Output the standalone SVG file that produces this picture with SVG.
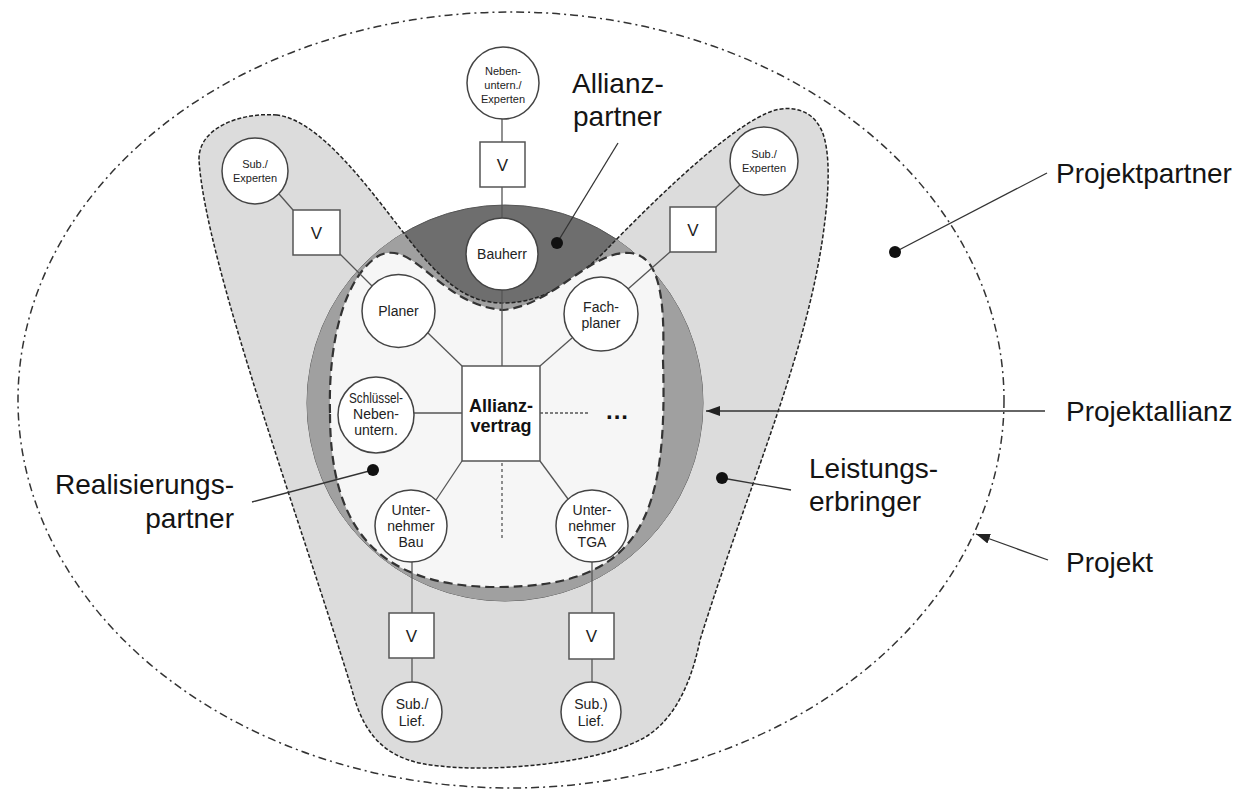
<svg xmlns="http://www.w3.org/2000/svg" width="1246" height="790" viewBox="0 0 1246 790">
<style>
.lbl{font-family:"Liberation Sans",Arial,Helvetica,sans-serif;font-size:28px;fill:#141414}
.nt{font-family:"Liberation Sans",Arial,Helvetica,sans-serif;font-size:14px;fill:#222;text-anchor:middle}
.sm{font-size:11px}
.vt{font-size:17px;fill:#222}
.bt{font-family:"Liberation Sans",Arial,Helvetica,sans-serif;font-size:18px;font-weight:bold;fill:#111;text-anchor:middle}
.node{fill:#fff;stroke:#444;stroke-width:1.5}
.box{fill:#fff;stroke:#555;stroke-width:1.5}
.con{stroke:#555;stroke-width:1.3;fill:none}
.ptr{stroke:#333;stroke-width:1.3;fill:none}
.dot{fill:#111}
</style>
<defs>
<path id="vshape" d="M 277,115 C 240,112 198,128 199,160 C 205,260 300,520 352,690 C 365,740 390,762 440,766 C 490,772 590,765 640,740 C 670,725 690,690 700,640 C 750,480 810,350 825,220 C 830,180 830,140 818,124 C 808,108 785,104 765,114 C 720,135 650,205 610,246 C 585,272 550,303 503,303 C 465,303 440,280 403,232 C 370,190 320,120 277,115 Z"/>
<clipPath id="circ"><circle cx="505" cy="403" r="198"/></clipPath>
<marker id="arr" markerUnits="userSpaceOnUse" markerWidth="14" markerHeight="10" refX="14" refY="5" orient="auto"><path d="M0,0 L14,5 L0,10 Z" fill="#222"/></marker>
</defs>
<rect width="1246" height="790" fill="#fff"/>

<g id="regions">
  <ellipse id="projekt" cx="511" cy="400" rx="493" ry="388" fill="none" stroke="#333" stroke-width="1.5" stroke-dasharray="8,4,2,4"/>
  <use href="#vshape" fill="#dcdcdc"/>
  <circle cx="505" cy="403" r="198" fill="#6e6e6e" stroke="#555" stroke-width="1"/>
  <use href="#vshape" fill="#a0a0a0" clip-path="url(#circ)"/>
  <use href="#vshape" fill="none" stroke="#222" stroke-width="1.5" stroke-dasharray="4,2"/>
  <path id="realisierung" d="M 330,413 C 328,340 345,275 380,255 C 415,240 440,305 503,310 C 555,305 590,250 630,253 C 660,255 665,300 663,360 C 668,520 640,587 497,587 C 370,587 330,520 330,413 Z" fill="#f6f6f6" stroke="#333" stroke-width="2.2" stroke-dasharray="9,5"/>
</g>

<g id="connectors">
  <line class="con" x1="502" y1="119" x2="502" y2="142"/>
  <line class="con" x1="502" y1="187" x2="502" y2="218"/>
  <line class="con" x1="502" y1="290" x2="502" y2="366"/>
  <line class="con" x1="279" y1="194" x2="293" y2="210"/>
  <line class="con" x1="340" y1="254" x2="372" y2="286"/>
  <line class="con" x1="740" y1="185" x2="716" y2="207"/>
  <line class="con" x1="670" y1="252" x2="628" y2="289"/>
  <line class="con" x1="428" y1="333" x2="462" y2="366"/>
  <line class="con" x1="572" y1="338" x2="540" y2="366"/>
  <line class="con" x1="414" y1="413" x2="462" y2="413"/>
  <line class="con" x1="436" y1="500" x2="462" y2="461"/>
  <line class="con" x1="568" y1="499" x2="540" y2="461"/>
  <line class="con" x1="540" y1="413" x2="588" y2="413" stroke-dasharray="3,2"/>
  <line class="con" x1="502" y1="463" x2="502" y2="540" stroke-dasharray="3,3"/>
  <line class="con" x1="412" y1="562" x2="412" y2="613"/>
  <line class="con" x1="412" y1="658" x2="412" y2="682"/>
  <line class="con" x1="592" y1="562" x2="592" y2="613"/>
  <line class="con" x1="592" y1="659" x2="592" y2="682"/>
</g>

<g id="n-neben"><circle class="node" cx="503" cy="83" r="36"/><text class="nt sm" x="503" y="75">Neben-</text><text class="nt sm" x="503" y="89">untern./</text><text class="nt sm" x="503" y="103">Experten</text></g>
<g id="v-neben"><rect class="box" x="480" y="142" width="45" height="45"/><text class="nt vt" x="502.5" y="171">V</text></g>
<g id="n-bauherr"><circle class="node" cx="502" cy="254" r="36"/><text class="nt" x="502" y="259">Bauherr</text></g>
<g id="n-sub-l"><circle class="node" cx="255" cy="171" r="33"/><text class="nt sm" x="255" y="168">Sub./</text><text class="nt sm" x="255" y="182">Experten</text></g>
<g id="v-sub-l"><rect class="box" x="293" y="210" width="47" height="45"/><text class="nt vt" x="316.5" y="239">V</text></g>
<g id="n-sub-r"><circle class="node" cx="764" cy="161" r="34"/><text class="nt sm" x="764" y="158">Sub./</text><text class="nt sm" x="764" y="172">Experten</text></g>
<g id="v-sub-r"><rect class="box" x="670" y="207" width="46" height="45"/><text class="nt vt" x="693" y="236">V</text></g>
<g id="n-planer"><circle class="node" cx="398.5" cy="311" r="36.5"/><text class="nt" x="398.5" y="316">Planer</text></g>
<g id="n-fachplaner"><circle class="node" cx="601" cy="314" r="37"/><text class="nt" x="601" y="312">Fach-</text><text class="nt" x="601" y="328">planer</text></g>
<g id="n-schluessel"><circle class="node" cx="376" cy="415" r="38"/><text class="nt" x="376" y="403" textLength="54" lengthAdjust="spacingAndGlyphs">Schlüssel-</text><text class="nt" x="376" y="419">Neben-</text><text class="nt" x="376" y="435">untern.</text></g>
<g id="n-vertrag"><rect class="box" x="462" y="366" width="78" height="95"/><text class="bt" x="501" y="412">Allianz-</text><text class="bt" x="501" y="432">vertrag</text></g>
<g id="n-more"><text class="bt" x="617" y="419" style="font-size:24px" textLength="22" lengthAdjust="spacing">...</text></g>
<g id="n-bau"><circle class="node" cx="411" cy="526" r="36"/><text class="nt" x="411" y="515">Unter-</text><text class="nt" x="411" y="531">nehmer</text><text class="nt" x="411" y="547">Bau</text></g>
<g id="n-tga"><circle class="node" cx="592" cy="526" r="36"/><text class="nt" x="592" y="515">Unter-</text><text class="nt" x="592" y="531">nehmer</text><text class="nt" x="592" y="547">TGA</text></g>
<g id="v-bau"><rect class="box" x="389" y="613" width="45" height="45"/><text class="nt vt" x="411.5" y="642">V</text></g>
<g id="v-tga"><rect class="box" x="569" y="613" width="45" height="46"/><text class="nt vt" x="591.5" y="642">V</text></g>
<g id="n-lief-l"><circle class="node" cx="412" cy="712" r="30"/><text class="nt" x="412" y="709">Sub./</text><text class="nt" x="412" y="726">Lief.</text></g>
<g id="n-lief-r"><circle class="node" cx="591" cy="712" r="30"/><text class="nt" x="591" y="709">Sub.)</text><text class="nt" x="591" y="726">Lief.</text></g>

<g id="annotations">
  <line class="ptr" x1="557" y1="243" x2="618" y2="143"/><circle class="dot" cx="557" cy="243" r="6"/>
  <line class="ptr" x1="895" y1="252" x2="1047" y2="173"/><circle class="dot" cx="895" cy="252" r="6"/>
  <line class="ptr" x1="1045" y1="411" x2="706" y2="411" marker-end="url(#arr)"/>
  <line class="ptr" x1="722" y1="478" x2="791" y2="490"/><circle class="dot" cx="722" cy="478" r="6"/>
  <line class="ptr" x1="373" y1="470" x2="252" y2="502"/><circle class="dot" cx="373" cy="470" r="6"/>
  <line class="ptr" x1="1048" y1="560" x2="976" y2="534" marker-end="url(#arr)"/>
</g>

<g id="labels">
  <text class="lbl" x="572" y="93">Allianz-</text>
  <text class="lbl" x="573" y="126">partner</text>
  <text class="lbl" x="1056" y="183">Projektpartner</text>
  <text class="lbl" x="1066" y="421">Projektallianz</text>
  <text class="lbl" x="809" y="478">Leistungs-</text>
  <text class="lbl" x="809" y="511">erbringer</text>
  <text class="lbl" x="1066" y="572">Projekt</text>
  <text class="lbl" x="234" y="494" text-anchor="end">Realisierungs-</text>
  <text class="lbl" x="234" y="528" text-anchor="end">partner</text>
</g>
</svg>
